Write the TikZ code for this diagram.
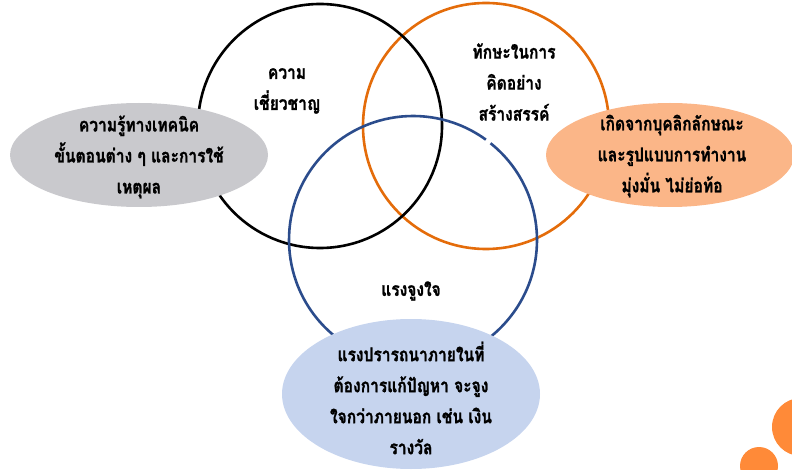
\documentclass[tikz,border=0pt]{standalone}
\usepackage{fontspec}
\newfontfamily\thaifont[Script=Thai,FakeStretch=0.82,BoldFeatures={FakeBold=1.2}]{Loma}
\definecolor{cblack}{HTML}{000000}
\definecolor{corange}{HTML}{E46C0A}
\definecolor{cblue}{HTML}{2B4C8C}
\definecolor{fgray}{HTML}{C9C9CD}
\definecolor{forange}{HTML}{FBB688}
\definecolor{fblue}{HTML}{C6D4EE}
\definecolor{deco}{HTML}{FF8A38}
\tikzset{
  ring/.style={line width=2.6pt},
  blob/.style={ellipse, draw=none, inner sep=0pt},
  lbl/.style={align=center, font={\thaifont\bfseries\fontsize{19}{31}\selectfont}, text=black, inner sep=0pt},
}
\usetikzlibrary{shapes.geometric}
\begin{document}
\begin{tikzpicture}[x=1pt,y=-1pt]
\useasboundingbox (0,0) rectangle (792,470);
% circles
\coordinate (cA) at (320,126);
\coordinate (cB) at (486,126);
\coordinate (cC) at (413,240);
\draw[ring, corange] (cB) circle (123);
\draw[ring, cblack] (cA) circle (122);
\draw[ring, cblue] ([shift={(-51.3:124)}]cC) arc[start angle=-51.3, end angle=306, radius=124];
% ellipses
\node[blob, fill=fgray, minimum width=258, minimum height=104] (eg) at (139,155) {};
\node[blob, fill=forange, minimum width=248, minimum height=104] (eo) at (670,155) {};
\node[blob, fill=fblue, minimum width=258, minimum height=150] (eb) at (411,394) {};
% deco circles
\fill[deco] (801,427) circle (29);
\fill[deco] (759,466) circle (19);
% labels
\node[lbl] (t1) at (287,91) {ความ\\เชี่ยวชาญ};
\node[lbl] (t2) at (514,82) {ทักษะในการ\\คิดอย่าง\\สร้างสรรค์};
\node[lbl] (t3) at (411,291) {แรงจูงใจ};
\node[lbl] (t4) at (139,157) {ความรู้ทางเทคนิค\\ขั้นตอนต่าง ๆ และการใช้\\เหตุผล};
\node[lbl] (t5) at (672,156) {เกิดจากบุคลิกลักษณะ\\และรูปแบบการทำงาน\\มุ่งมั่น ไม่ย่อท้อ};
\node[lbl] (t6) at (411,398) {แรงปรารถนาภายในที่\\ต้องการแก้ปัญหา จะจูง\\ใจกว่าภายนอก เช่น เงิน\\รางวัล};
\end{tikzpicture}
\end{document}
